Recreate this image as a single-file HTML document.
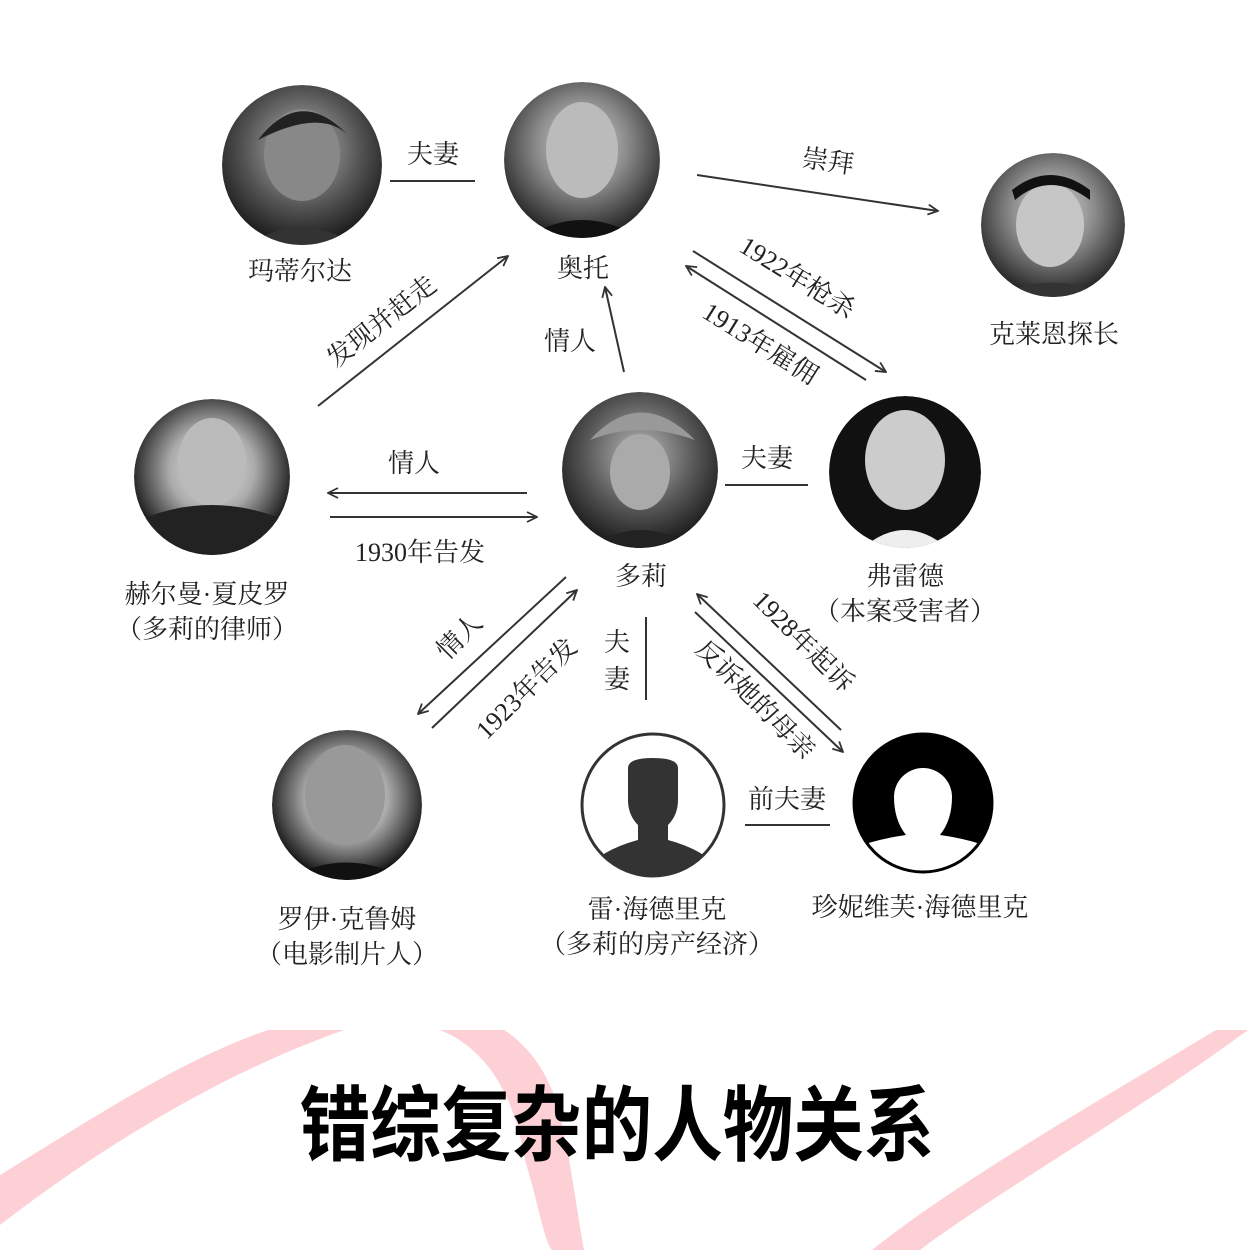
<!DOCTYPE html>
<html><head><meta charset="utf-8"><style>
html,body{margin:0;padding:0;background:#fff;}
svg{display:block}
.t{font-family:"Liberation Serif","Noto Serif CJK SC",serif;font-size:26px;fill:#222;}
</style></head><body>
<svg width="1254" height="1250" viewBox="0 0 1254 1250" xmlns="http://www.w3.org/2000/svg">
<defs>
<marker id="a" viewBox="0 0 12 12" refX="11" refY="6" markerWidth="12" markerHeight="12" markerUnits="userSpaceOnUse" orient="auto">
<path d="M1,1 L11,6 L1,11" fill="none" stroke="#333" stroke-width="1.8"/></marker>
<radialGradient id="p1" cx="50%" cy="40%" r="60%"><stop offset="0" stop-color="#bbb"/><stop offset="0.6" stop-color="#555"/><stop offset="1" stop-color="#1a1a1a"/></radialGradient>
<radialGradient id="p2" cx="50%" cy="40%" r="60%"><stop offset="0" stop-color="#ddd"/><stop offset="0.5" stop-color="#888"/><stop offset="1" stop-color="#222"/></radialGradient>
<radialGradient id="p3" cx="50%" cy="45%" r="55%"><stop offset="0" stop-color="#eee"/><stop offset="0.5" stop-color="#aaa"/><stop offset="1" stop-color="#111"/></radialGradient>
<clipPath id="c1"><circle cx="302" cy="165" r="80"/></clipPath>
<clipPath id="c2"><circle cx="582" cy="160" r="78"/></clipPath>
<clipPath id="c3"><circle cx="1053" cy="225" r="72"/></clipPath>
<clipPath id="c4"><circle cx="212" cy="477" r="78"/></clipPath>
<clipPath id="c5"><circle cx="640" cy="470" r="78"/></clipPath>
<clipPath id="c6"><circle cx="905" cy="472" r="76"/></clipPath>
<clipPath id="c7"><circle cx="347" cy="805" r="75"/></clipPath>
<clipPath id="c8"><circle cx="653" cy="805" r="70"/></clipPath>
<clipPath id="c9"><circle cx="923" cy="803" r="70"/></clipPath>
</defs>
<!-- pink bands -->
<path d="M0,1175 C90,1120 180,1060 268,1030 L344,1030 C230,1070 110,1140 0,1225 Z" fill="#fcd0d5"/>
<path d="M440,1030 C490,1050 515,1100 525,1160 C540,1210 544,1240 552,1250 L584,1250 C575,1200 565,1120 552,1090 C540,1060 520,1040 504,1030 Z" fill="#fcd0d5"/>
<path d="M1216,1030 L1248,1030 C1140,1110 1000,1190 920,1250 L872,1250 C960,1180 1100,1100 1216,1030 Z" fill="#fcd0d5"/>

<!-- photos -->
<g clip-path="url(#c1)"><circle cx="302" cy="165" r="80" fill="url(#p1)"/>
<ellipse cx="302" cy="155" rx="38" ry="46" fill="#888"/><path d="M258,140 Q300,85 348,135 Q320,108 258,140Z" fill="#222"/><path d="M240,250 Q300,205 365,250Z" fill="#333"/></g>
<g clip-path="url(#c2)"><circle cx="582" cy="160" r="78" fill="url(#p2)"/>
<ellipse cx="582" cy="150" rx="36" ry="48" fill="#bbb"/><path d="M515,245 Q582,195 650,245Z" fill="#111"/></g>
<g clip-path="url(#c3)"><circle cx="1053" cy="225" r="72" fill="url(#p2)"/>
<ellipse cx="1050" cy="225" rx="34" ry="42" fill="#c6c6c6"/><path d="M1015,200 Q1050,170 1090,200 L1090,190 Q1050,160 1012,190Z" fill="#111"/><path d="M990,300 Q1050,265 1115,300Z" fill="#333"/></g>
<g clip-path="url(#c4)"><circle cx="212" cy="477" r="78" fill="url(#p3)"/>
<ellipse cx="212" cy="462" rx="34" ry="44" fill="#bbb"/><path d="M130,560 L140,520 Q210,490 285,520 L295,560Z" fill="#222"/></g>
<g clip-path="url(#c5)"><circle cx="640" cy="470" r="78" fill="url(#p1)"/>
<path d="M590,440 Q640,385 695,440 Q640,420 590,440Z" fill="#999"/><ellipse cx="640" cy="472" rx="30" ry="38" fill="#aaa"/><path d="M575,560 Q640,500 710,560Z" fill="#222"/></g>
<g clip-path="url(#c6)"><circle cx="905" cy="472" r="76" fill="#111"/>
<ellipse cx="905" cy="460" rx="40" ry="50" fill="#ccc"/><path d="M855,555 Q905,505 955,555Z" fill="#eee"/></g>
<g clip-path="url(#c7)"><circle cx="347" cy="805" r="75" fill="url(#p3)"/>
<ellipse cx="345" cy="795" rx="40" ry="50" fill="#999"/><path d="M270,890 Q345,835 425,890Z" fill="#111"/></g>
<circle cx="653" cy="805" r="71" fill="#fff" stroke="#333" stroke-width="3"/>
<g clip-path="url(#c8)"><path d="M628,768 Q628,758 653,758 Q678,758 678,768 L678,800 Q678,815 668,825 L668,840 Q705,850 720,870 L720,890 L586,890 L586,870 Q601,850 638,840 L638,825 Q628,815 628,800Z" fill="#333"/></g>
<g clip-path="url(#c9)"><circle cx="923" cy="803" r="70" fill="#000"/>
<path d="M923,768 A29,29 0 0 1 952,797 Q952,820 940,835 Q975,840 995,850 L995,880 L850,880 L850,850 Q871,840 906,835 Q894,820 894,797 A29,29 0 0 1 923,768Z" fill="#fff"/></g>
<circle cx="923" cy="803" r="69" fill="none" stroke="#000" stroke-width="3"/>

<!-- connectors -->
<g stroke="#333" stroke-width="2" fill="none">
<line x1="390" y1="181" x2="475" y2="181"/>
<line x1="697" y1="175" x2="938" y2="211" marker-end="url(#a)"/>
<line x1="693" y1="251" x2="886" y2="372" marker-end="url(#a)"/>
<line x1="866" y1="380" x2="686" y2="266" marker-end="url(#a)"/>
<line x1="318" y1="406" x2="508" y2="256" marker-end="url(#a)"/>
<line x1="624" y1="372" x2="605" y2="287" marker-end="url(#a)"/>
<line x1="527" y1="493" x2="328" y2="493" marker-end="url(#a)"/>
<line x1="330" y1="517" x2="537" y2="517" marker-end="url(#a)"/>
<line x1="725" y1="485" x2="808" y2="485"/>
<line x1="566" y1="577" x2="418" y2="714" marker-end="url(#a)"/>
<line x1="432" y1="728" x2="577" y2="590" marker-end="url(#a)"/>
<line x1="646" y1="617" x2="646" y2="700"/>
<line x1="841" y1="730" x2="697" y2="594" marker-end="url(#a)"/>
<line x1="695" y1="612" x2="843" y2="752" marker-end="url(#a)"/>
<line x1="745" y1="825" x2="830" y2="825"/>
</g>

<!-- labels -->
<g class="t">
<text x="433" y="163" text-anchor="middle">夫妻</text>
<text x="828" y="170" text-anchor="middle" transform="rotate(8 828 162)">崇拜</text>
<text x="797" y="286" text-anchor="middle" transform="rotate(32 797 278)">1922年枪杀</text>
<text x="760" y="352" text-anchor="middle" transform="rotate(32 760 344)">1913年雇佣</text>
<text x="382" y="330" text-anchor="middle" transform="rotate(-38 382 322)">发现并赶走</text>
<text x="570" y="350" text-anchor="middle">情人</text>
<text x="414" y="472" text-anchor="middle">情人</text>
<text x="420" y="561" text-anchor="middle">1930年告发</text>
<text x="767" y="467" text-anchor="middle">夫妻</text>
<text x="460" y="645" text-anchor="middle" transform="rotate(-45 460 637)">情人</text>
<text x="527" y="697" text-anchor="middle" transform="rotate(-45 527 689)">1923年告发</text>
<text x="617" y="651" text-anchor="middle">夫</text>
<text x="617" y="688" text-anchor="middle">妻</text>
<text x="803" y="650" text-anchor="middle" transform="rotate(45 803 642)">1928年起诉</text>
<text x="755" y="708" text-anchor="middle" transform="rotate(45 755 700)">反诉她的母亲</text>
<text x="787" y="808" text-anchor="middle">前夫妻</text>

<text x="300" y="280" text-anchor="middle">玛蒂尔达</text>
<text x="583" y="277" text-anchor="middle">奥托</text>
<text x="1054" y="343" text-anchor="middle">克莱恩探长</text>
<text x="207" y="603" text-anchor="middle">赫尔曼·夏皮罗</text>
<text x="207" y="638" text-anchor="middle">（多莉的律师）</text>
<text x="641" y="585" text-anchor="middle">多莉</text>
<text x="905" y="585" text-anchor="middle">弗雷德</text>
<text x="905" y="620" text-anchor="middle">（本案受害者）</text>
<text x="347" y="928" text-anchor="middle">罗伊·克鲁姆</text>
<text x="347" y="963" text-anchor="middle">（电影制片人）</text>
<text x="657" y="918" text-anchor="middle">雷·海德里克</text>
<text x="657" y="953" text-anchor="middle">（多莉的房产经济）</text>
<text x="920" y="916" text-anchor="middle">珍妮维芙·海德里克</text>
</g>
<text x="617" y="1154" text-anchor="middle" font-family="'Noto Sans CJK SC',sans-serif" font-weight="bold" font-size="82" fill="#000" transform="translate(617 0) scale(0.86 1) translate(-617 0)">错综复杂的人物关系</text>
</svg>
</body></html>
